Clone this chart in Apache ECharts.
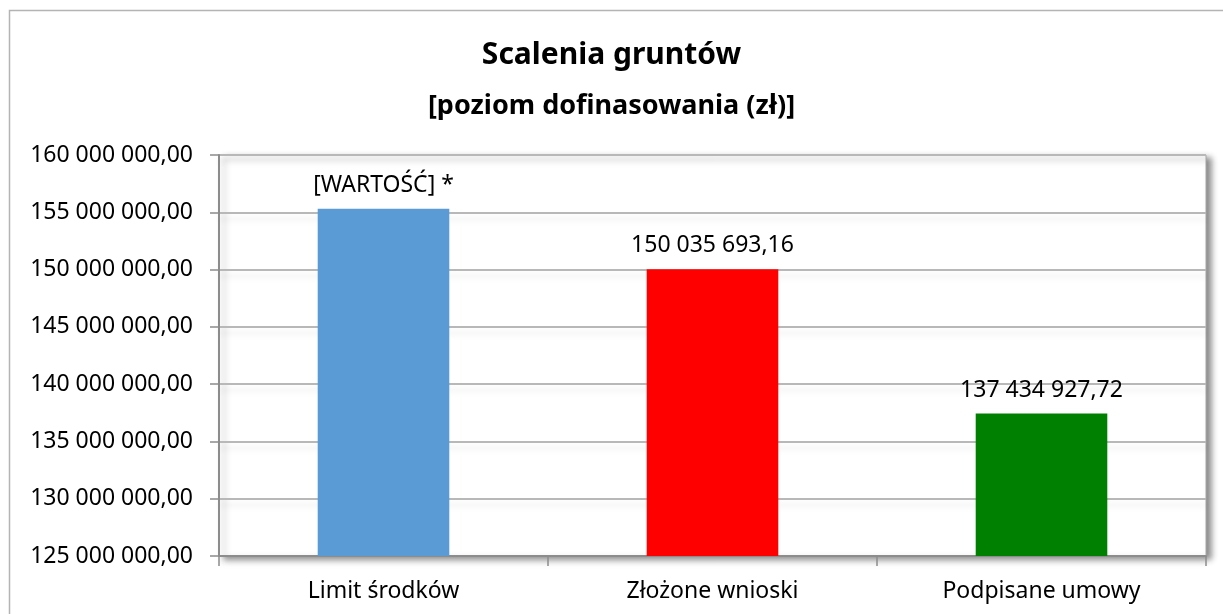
<!DOCTYPE html>
<html>
<head>
<meta charset="utf-8">
<script src="https://cdn.jsdelivr.net/npm/echarts@6/dist/echarts.min.js"></script>
<style>
  html, body { margin: 0; padding: 0; background: #fff; }
  #chart { width: 1223px; height: 614px; }
</style>
</head>
<body>
<div id="chart"></div>
<script>
// dane wykresu
const categories = ['Limit środków', 'Złożone wnioski', 'Podpisane umowy']
const values = [155300000, 150035693.16, 137434927.72]
const barColors = ['#5b9bd5', '#ff0000', '#008000']
// etykieta pierwszego słupka to pole zastępcze z Excela
const barLabels = ['[WARTOŚĆ] *', null, null]

const FONT = '"Noto Sans", sans-serif'

const fmt = (v) => {
  const parts = Number(v).toFixed(2).split('.')
  return parts[0].replace(/\B(?=(\d{3})+(?!\d))/g, ' ') + ',' + parts[1]
}

const chart = echarts.init(document.getElementById('chart'))
chart.setOption({
  animation: false,
  backgroundColor: '#fff',
  textStyle: { fontFamily: FONT },
  title: [
    {
      text: 'Scalenia gruntów',
      left: 'center',
      top: 35,
      textStyle: { fontSize: 30, fontWeight: 'bold', color: '#000', fontFamily: FONT }
    },
    {
      text: '[poziom dofinasowania (zł)]',
      left: 'center',
      top: 88,
      textStyle: { fontSize: 27, fontWeight: 'bold', color: '#000', fontFamily: FONT }
    }
  ],
  graphic: [
    {
      type: 'rect',
      silent: true,
      z: -10,
      shape: { x: 9.5, y: 10.5, width: 1300, height: 700 },
      style: { fill: 'none', stroke: '#b4b4b4', lineWidth: 1.5 }
    }
  ],
  grid: {
    left: 219,
    right: 17,
    top: 155,
    bottom: 58,
    show: true,
    backgroundColor: '#fff',
    borderColor: '#a8a8a8',
    borderWidth: 1,
    shadowColor: 'rgba(0,0,0,0.45)',
    shadowBlur: 6,
    shadowOffsetX: 5,
    shadowOffsetY: 3
  },
  xAxis: {
    type: 'category',
    data: categories,
    axisLine: { lineStyle: { color: '#8c8c8c', width: 2 } },
    axisTick: { show: true, length: 10, lineStyle: { color: '#8c8c8c', width: 1.5 } },
    axisLabel: { color: '#000', fontSize: 23, margin: 24, fontFamily: FONT }
  },
  yAxis: {
    type: 'value',
    min: 125000000,
    max: 160000000,
    interval: 5000000,
    axisLine: { show: true, lineStyle: { color: '#8c8c8c', width: 2 } },
    axisTick: { show: true, length: 9, lineStyle: { color: '#8c8c8c', width: 1.5 } },
    axisLabel: {
      color: '#000',
      fontSize: 23,
      margin: 26,
      fontFamily: FONT,
      formatter: (v) => fmt(v)
    },
    splitLine: {
      lineStyle: {
        color: '#b8b8b8',
        width: 2,
        shadowColor: 'rgba(0,0,0,0.1)',
        shadowBlur: 6,
        shadowOffsetY: 6
      }
    }
  },
  series: [
    {
      type: 'bar',
      barWidth: '40%',
      data: values.map((v, i) => ({ value: v, itemStyle: { color: barColors[i] } })),
      label: {
        show: true,
        position: 'top',
        distance: 12,
        color: '#000',
        fontSize: 23,
        fontFamily: FONT,
        formatter: (p) => barLabels[p.dataIndex] || fmt(p.value)
      }
    }
  ]
})
</script>
</body>
</html>
